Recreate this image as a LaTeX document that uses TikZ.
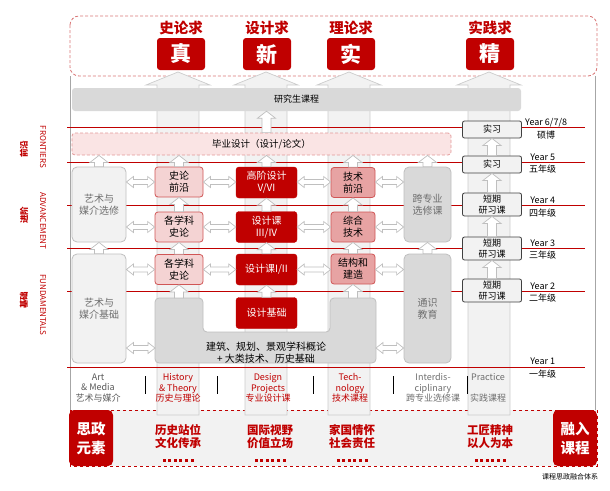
\documentclass[tikz,border=0pt]{standalone}
\usepackage{fontspec}
\setmainfont{Noto Sans CJK SC}
\usetikzlibrary{positioning, calc}

\definecolor{zhRed}{HTML}{C00000}
\definecolor{redLine}{HTML}{D05555}
\definecolor{pinkPale}{HTML}{F4D3D3}
\definecolor{pinkMid}{HTML}{E7A3A3}
\definecolor{pinkGrad}{HTML}{FAE4E4}
\definecolor{grayPale}{HTML}{F2F2F2}
\definecolor{grayMid}{HTML}{D9D9D9}
\definecolor{grayLine}{HTML}{BFBFBF}
\definecolor{grayText}{HTML}{6E6E6E}

\begin{document}
\begin{tikzpicture}[
    x=1pt, y=-1pt,
    % Global Styles
    font=\fontsize{10}{12}\selectfont,
    % Course boxes
    artBox/.style={draw=grayLine, fill=grayPale, text=grayText, rounded corners=5pt, line width=0.8pt, minimum width=54, align=center, inner sep=0pt},
    histBox/.style={draw=redLine, fill=pinkPale, rounded corners=3pt, line width=0.8pt, minimum width=48, minimum height=30, align=center, inner sep=0pt},
    desBox/.style={draw=zhRed, fill=zhRed, text=white, rounded corners=3pt, minimum width=61, minimum height=31, align=center, inner sep=0pt},
    techBox/.style={draw=redLine, fill=pinkMid, rounded corners=3pt, line width=0.8pt, minimum width=44, minimum height=30, align=center, inner sep=0pt},
    interBox/.style={draw=grayLine, fill=grayMid, text=grayText, rounded corners=5pt, line width=0.8pt, minimum width=47, align=center, inner sep=0pt},
    pracBox/.style={draw=black!75, fill=grayPale, rounded corners=2pt, line width=0.8pt, minimum width=59, align=center, inner sep=0pt, font=\fontsize{9}{10.5}\selectfont},
    % Goals on top
    goalBox/.style={fill=zhRed, rounded corners=3pt, minimum width=48, minimum height=32, inner sep=0pt, text=white, font=\fontsize{21}{21}\selectfont\bfseries},
    goalTitle/.style={text=zhRed, inner sep=0pt, font=\fontsize{14.5}{15}\selectfont\bfseries},
    % Background columns and lines
    band/.style={fill=grayPale, draw=grayLine!80, line width=0.7pt},
    yearLine/.style={draw=zhRed, line width=0.8pt},
    frameLine/.style={draw=gray!70, line width=0.6pt},
    % Fat arrows between boxes
    upArr/.style={draw=grayLine, fill=white, line width=0.7pt,
        to path={let \p1=(\tikztostart), \p2=(\tikztotarget) in
            (\x1-4.5pt,\y1) -- (\x1-4.5pt,\y2-7pt) -- (\x1-9pt,\y2-7pt) -- (\x1,\y2)
            -- (\x1+9pt,\y2-7pt) -- (\x1+4.5pt,\y2-7pt) -- (\x1+4.5pt,\y1) -- cycle}},
    dblArr/.style={draw=grayLine, fill=white, line width=0.7pt,
        to path={let \p1=(\tikztostart), \p2=(\tikztotarget) in
            (\x1,\y1) -- (\x1+7pt,\y1+5.5pt) -- (\x1+7pt,\y1+2.5pt) -- (\x2-7pt,\y1+2.5pt)
            -- (\x2-7pt,\y1+5.5pt) -- (\x2,\y1) -- (\x2-7pt,\y1-5.5pt) -- (\x2-7pt,\y1-2.5pt)
            -- (\x1+7pt,\y1-2.5pt) -- (\x1+7pt,\y1-5.5pt) -- cycle}},
    % Labels
    yearLbl/.style={anchor=west, align=center, inner sep=0pt, font=\fontsize{9}{12.5}\selectfont},
    colLbl/.style={align=center, inner sep=0pt, font=\fontsize{9}{10.5}\selectfont},
    sideEn/.style={text=zhRed, inner sep=0pt, rotate=-90, font=\fontsize{8}{8}\selectfont},
    sideZh/.style={text=zhRed, inner sep=0pt, rotate=90, font=\fontsize{8.5}{9}\selectfont\bfseries},
    valueTxt/.style={text=zhRed, align=center, inner sep=0pt, font=\fontsize{11.5}{13.5}\selectfont\bfseries},
    redSquare/.style={fill=zhRed, rounded corners=5pt, minimum width=44, minimum height=56, inner sep=0pt, text=white, align=center, font=\fontsize{14.5}{19}\selectfont\bfseries}
]

    \useasboundingbox (0,0) rectangle (610,490);

    % --- Top goal frame & bottom value frame ---
    \draw[draw=redLine!80, densely dashed, line width=0.8pt, rounded corners=9pt, fill=white] (70,16) rectangle (597,76);
    \draw[draw=zhRed, dashed, line width=0.8pt, fill=grayPale] (70,410) rectangle (597,466);

    % --- Column bands (big up arrows) ---
    \foreach \cx in {178,266,349,489} {
        \draw[band] (\cx-21,415) -- (\cx-21,85) -- (\cx-32,85) -- (\cx,72) -- (\cx+32,85) -- (\cx+21,85) -- (\cx+21,415) -- cycle;
    }

    % --- Goals ---
    \foreach \cx/\ttl/\ch/\nm in {181/史论求/真/zhen, 267/设计求/新/xin, 351/理论求/实/shi, 490/实践求/精/jing} {
        \node[goalBox] (\nm) at (\cx,54) {\ch};
        \node[goalTitle] (\nm-t) at (\cx,28) {\ttl};
    }

    % --- Frame & year lines ---
    \draw[frameLine] (70,76) -- (70,410);
    \draw[frameLine] (595,76) -- (595,410);
    \foreach \ly in {127,162,205,248,291,367} {
        \draw[yearLine] (67,\ly) -- (585,\ly);
    }

    % --- Graduate / thesis ---
    \node[fill=grayMid, rounded corners=3pt, minimum width=449, minimum height=23, inner sep=0pt, font=\fontsize{9}{10}\selectfont] (pg) at (296.5,99.5) {研究生课程};
    \node[fill=pinkGrad, draw=redLine!60, densely dashed, line width=0.8pt, rounded corners=3pt, minimum width=379, minimum height=22, inner sep=0pt, font=\fontsize{9.5}{10}\selectfont] (grad) at (261.5,144) {毕业设计（设计/论文）};

    % --- Art & Media ---
    \node[artBox, minimum height=75] (art1) at (99,204.5) {艺术与\\媒介选修};
    \node[artBox, minimum height=109] (art2) at (99,308.5) {艺术与\\媒介基础};

    % --- History & Theory ---
    \node[histBox] (hist1) at (179,182) {史论\\前沿};
    \node[histBox] (hist2) at (179,227) {各学科\\史论};
    \node[histBox] (hist3) at (179,269.5) {各学科\\史论};

    % --- Design Projects ---
    \node[desBox] (des1) at (266.5,182.5) {高阶设计\\V/VI};
    \node[desBox] (des2) at (266.5,227) {设计课\\III/IV};
    \node[desBox] (des3) at (266.5,269.5) {设计课I/II};
    \node[desBox] (des4) at (266.5,313) {设计基础};

    % --- Technology ---
    \node[techBox] (tech1) at (353,182.5) {技术\\前沿};
    \node[techBox] (tech2) at (353,227) {综合\\技术};
    \node[techBox] (tech3) at (353,269) {结构和\\建造};

    % --- Interdisciplinary ---
    \node[interBox, minimum height=75] (inter1) at (427.5,204.5) {跨专业\\选修课};
    \node[interBox, minimum height=109] (inter2) at (427.5,308.5) {通识\\教育};

    % --- Common base (U shape) ---
    \draw[fill=grayMid, draw=grayLine, line width=0.8pt, rounded corners=4pt]
        (155,298) -- (155,363) -- (376,363) -- (376,298) -- (330,298) -- (330,332) -- (203,332) -- (203,298) -- cycle;
    \node[align=center, inner sep=0pt] (base) at (266,353) {建筑、规划、景观学科概论\\+ 大类技术、历史基础};
    \coordinate (baseW) at (155,348);
    \coordinate (baseE) at (376,348);
    \coordinate (baseL) at (179,298);
    \coordinate (baseR) at (353,298);

    % --- Practice ---
    \node[pracBox, minimum height=17] (prac6) at (492,129.5) {实习};
    \node[pracBox, minimum height=17] (prac5) at (492,164.5) {实习};
    \node[pracBox, minimum height=23] (prac4) at (492,204.5) {短期\\研习课};
    \node[pracBox, minimum height=23] (prac3) at (492,248.5) {短期\\研习课};
    \node[pracBox, minimum height=23] (prac2) at (492,290.5) {短期\\研习课};

    % --- Vertical arrows ---
    \draw[upArr] (grad.north -| des1.north) to (pg.south -| des1.north);
    \draw[upArr] (art1.north) to (grad.south -| art1.north);
    \draw[upArr] (hist1.north) to (grad.south -| hist1.north);
    \draw[upArr] (des1.north) to (grad.south -| des1.north);
    \draw[upArr] (tech1.north) to (grad.south -| tech1.north);
    \draw[upArr] (inter1.north) to (grad.south -| inter1.north);
    \draw[upArr] (art2.north) to (art1.south);
    \draw[upArr] (inter2.north) to (inter1.south);
    \draw[upArr] (hist2.north) to (hist1.south);
    \draw[upArr] (hist3.north) to (hist2.south);
    \draw[upArr] (baseL) to (hist3.south);
    \draw[upArr] (des2.north) to (des1.south);
    \draw[upArr] (des3.north) to (des2.south);
    \draw[upArr] (des4.north) to (des3.south);
    \draw[upArr] (tech2.north) to (tech1.south);
    \draw[upArr] (tech3.north) to (tech2.south);
    \draw[upArr] (baseR) to (tech3.south);
    \draw[upArr] (prac5.north) to (prac6.south);
    \draw[upArr] (prac4.north) to (prac5.south);
    \draw[upArr] (prac3.north) to (prac4.south);
    \draw[upArr] (prac2.north) to (prac3.south);

    % --- Horizontal double arrows ---
    \draw[dblArr] (art1.east |- hist1) to (hist1.west);
    \draw[dblArr] (hist1.east) to (des1.west |- hist1);
    \draw[dblArr] (des1.east |- hist1) to (tech1.west |- hist1);
    \draw[dblArr] (tech1.east |- hist1) to (inter1.west |- hist1);
    \draw[dblArr] (art1.east |- hist2) to (hist2.west);
    \draw[dblArr] (hist2.east) to (des2.west |- hist2);
    \draw[dblArr] (des2.east |- hist2) to (tech2.west |- hist2);
    \draw[dblArr] (tech2.east |- hist2) to (inter1.west |- hist2);
    \draw[dblArr] (art2.east |- hist3) to (hist3.west);
    \draw[dblArr] (hist3.east) to (des3.west |- hist3);
    \draw[dblArr] (des3.east |- hist3) to (tech3.west |- hist3);
    \draw[dblArr] (tech3.east |- hist3) to (inter2.west |- hist3);
    \draw[dblArr] (art2.east |- baseW) to (baseW);
    \draw[dblArr] (baseE) to (inter2.west |- baseE);

    % --- Year labels ---
    \node[yearLbl] (y6) at (525,129) {Year 6/7/8\\硕博};
    \node[yearLbl] (y5) at (529,163.5) {Year 5\\五年级};
    \node[yearLbl] (y4) at (529,207) {Year 4\\四年级};
    \node[yearLbl] (y3) at (529,249.5) {Year 3\\三年级};
    \node[yearLbl] (y2) at (529,292.5) {Year 2\\二年级};
    \node[yearLbl] (y1) at (529,368) {Year 1\\一年级};

    % --- Side labels ---
    \node[sideEn] (frE) at (43,147) {FRONTIERS};
    \node[sideZh] (frZ) at (24,149) {前沿};
    \node[sideEn] (adE) at (43,221) {ADVANCEMENT};
    \node[sideZh] (adZ) at (24,215) {进阶};
    \node[sideEn] (fuE) at (43,305) {FUNDAMENTALS};
    \node[sideZh] (fuZ) at (24,300) {基础};

    % --- Column labels ---
    \node[colLbl, text=grayText!80!black] (lblArt) at (98,388) {Art\\\& Media\\艺术与媒介};
    \node[colLbl, text=zhRed] (lblHist) at (178,388) {History\\\& Theory\\历史与理论};
    \node[colLbl, text=zhRed] (lblDes) at (268,388) {Design\\Projects\\专业设计课};
    \node[colLbl, text=zhRed] (lblTech) at (350,388) {Tech-\\nology\\技术课程};
    \node[colLbl, text=grayText] (lblInter) at (433,388) {Interdis-\\ciplinary\\跨专业选修课};
    \node[colLbl, text=grayText] (lblPrac) at (488,388) {Practice\\[10.5pt]实践课程};
    \foreach \sx in {145,217,313,393,467} {
        \draw[line width=0.9pt] (\sx,376) -- (\sx,394);
    }

    % --- Values ---
    \node[redSquare] (ideo) at (91,438) {思政\\元素};
    \node[redSquare] (merge) at (575,438) {融入\\课程};
    \node[valueTxt] (val1) at (178,436.5) {历史站位\\文化传承};
    \node[valueTxt] (val2) at (270,436.5) {国际视野\\价值立场};
    \node[valueTxt] (val3) at (352,436.5) {家国情怀\\社会责任};
    \node[valueTxt] (val4) at (490,436.5) {工匠精神\\以人为本};
    \foreach \cx in {178,270,352,490} {
        \foreach \i in {0,...,5} {
            \fill[zhRed] (\cx-15.5+\i*5.6,459) rectangle ++(3,3);
        }
    }

    \node[inner sep=0pt, font=\fontsize{7}{8}\selectfont] (caption) at (570,477) {课程思政融合体系};

\end{tikzpicture}
\end{document}
